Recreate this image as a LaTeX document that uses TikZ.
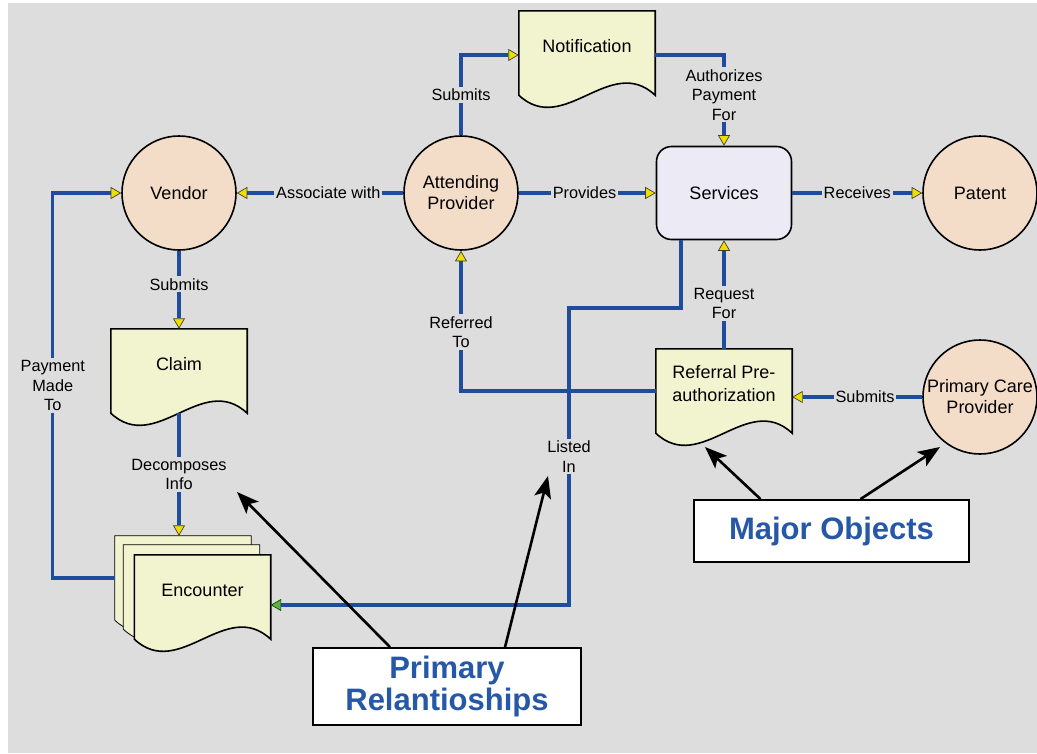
\documentclass[tikz,border=0pt]{standalone}
\usepackage{fontspec}
\setmainfont{Liberation Sans}
\usetikzlibrary{arrows.meta}
\definecolor{canvas}{RGB}{221,221,221}
\definecolor{peach}{RGB}{243,221,200}
\definecolor{paper}{RGB}{242,244,207}
\definecolor{lilac}{RGB}{236,234,245}
\definecolor{flowblue}{RGB}{32,76,158}
\definecolor{textblue}{RGB}{38,88,168}
\definecolor{tipyellow}{RGB}{240,222,0}
\definecolor{tipgreen}{RGB}{100,175,60}
\pgfdeclarelayer{canvas}
\pgfdeclarelayer{docs}
\pgfsetlayers{canvas,docs,main}
\newcommand{\docshape}[2][]{%
  \draw[docline,#1](#2.north west)--(#2.north east)--([yshift=-14pt]#2.south east)
    .. controls +(-45,-42) and +(45,42) .. ([yshift=-14pt]#2.south west)--cycle;}
\begin{document}
\begin{tikzpicture}[x=1pt,y=-1pt,
  ent/.style={circle,draw,line width=1.6pt,fill=peach,minimum size=114pt,inner sep=0pt,align=center,font=\fontsize{18}{21}\selectfont},
  proc/.style={rectangle,rounded corners=15pt,draw,line width=1.6pt,fill=lilac,minimum width=135pt,minimum height=93pt,font=\fontsize{18}{21}\selectfont},
  doc/.style={minimum width=136pt,minimum height=70pt,inner sep=0pt,align=center,font=\fontsize{18}{23}\selectfont},
  docline/.style={draw=black,line width=1.6pt,fill=paper},
  lbl/.style={fill=canvas,inner sep=2pt,align=center,font=\fontsize{16.3}{19.5}\selectfont},
  flowtip/.tip={Triangle[length=10.5pt,width=12pt,fill=tipyellow,color=black!70!olive,line width=0.7pt]},
  greentip/.tip={Triangle[length=10.5pt,width=12pt,fill=tipgreen,color=black!70!green,line width=0.7pt]},
  flow/.style={draw=flowblue,line width=3.3pt,-flowtip},
  callout/.style={draw,line width=1.8pt,fill=white,align=center,text=textblue,font=\bfseries\fontsize{31}{32}\selectfont},
  pointer/.style={draw=black,line width=2.6pt,-{Stealth[length=22pt,width=17pt,inset=5pt]}}]
\useasboundingbox(0,0)rectangle(1037,753);
\begin{pgfonlayer}{canvas}
\fill[white](0,0)rectangle(1037,753);
\fill[canvas](8,3)rectangle(1037,753);
\end{pgfonlayer}
\node[ent](vendor)at(179,193){Vendor};
\node[ent](att)at(461,193){Attending\\Provider};
\node[ent](patent)at(980,193){Patent};
\node[ent](pcp)at(980,397){Primary Care\\Provider};
\node[proc](serv)at(724,193){Services};
\node[doc](notif)at(587,46){Notification};
\node[doc](claim)at(179,364){Claim};
\node[doc](referral)at(724,384){Referral Pre-\\authorization};
\node[doc](enc3)at(183,571){};
\node[doc](enc2)at(191.5,580){};
\node[doc](enc)at(202.5,590){Encounter};
\begin{pgfonlayer}{docs}
\docshape[line width=0.8pt]{enc3}
\docshape[line width=0.8pt]{enc2}
\docshape{enc}
\docshape{claim}
\docshape{notif}
\docshape{referral}
\end{pgfonlayer}
\draw[flow](att)--node[lbl,pos=0.45]{Associate with}(vendor);
\draw[flow](vendor)--node[lbl,pos=0.43]{Submits}(claim);
\draw[flow]([yshift=-14pt]claim.south)--node[lbl]{Decomposes\\Info}(claim.south|-enc3.north);
\draw[flow]([yshift=-7pt]enc3.west)--++(-62,0)|-node[lbl,pos=0.25]{Payment\\Made\\To}(vendor);
\draw[flow](att)|-node[lbl,pos=0.25]{Submits}([yshift=-9pt]notif.west);
\draw[flow]([yshift=-9pt]notif.east)-|node[lbl,pos=0.72]{Authorizes\\Payment\\For}(serv);
\draw[flow](att)--node[lbl,pos=0.48]{Provides}(serv);
\draw[flow](serv)--node[lbl]{Receives}(patent);
\draw[flow](referral)--node[lbl,pos=0.42]{Request\\For}(serv);
\draw[flow]([yshift=-7pt]referral.west)-|node[lbl,pos=0.71]{Referred\\To}(att);
\draw[flow](pcp)--node[lbl,pos=0.44]{Submits}(pcp-|referral.east);
\coordinate(turn)at(569,308);
\coordinate(encin)at([yshift=-15pt]enc.east);
\draw[flow,-greentip]([xshift=-43pt]serv.south)|-(turn)--node[lbl]{Listed\\In}(turn|-encin)--(encin);
\node[callout,minimum width=268pt,minimum height=77pt](prim)at(447,686.5){Primary\\Relantioships};
\node[callout,minimum width=275pt,minimum height=62pt](major)at(831.5,531){Major Objects};
\coordinate(pa)at(237,492);
\coordinate(pb)at(548,476);
\coordinate(ma)at(705,447);
\coordinate(mb)at(940,447);
\draw[pointer]([xshift=-57pt]prim.north)--(pa);
\draw[pointer]([xshift=58pt]prim.north)--(pb);
\draw[pointer]([xshift=-71pt]major.north)--(ma);
\draw[pointer]([xshift=29pt]major.north)--(mb);
\end{tikzpicture}
\end{document}
